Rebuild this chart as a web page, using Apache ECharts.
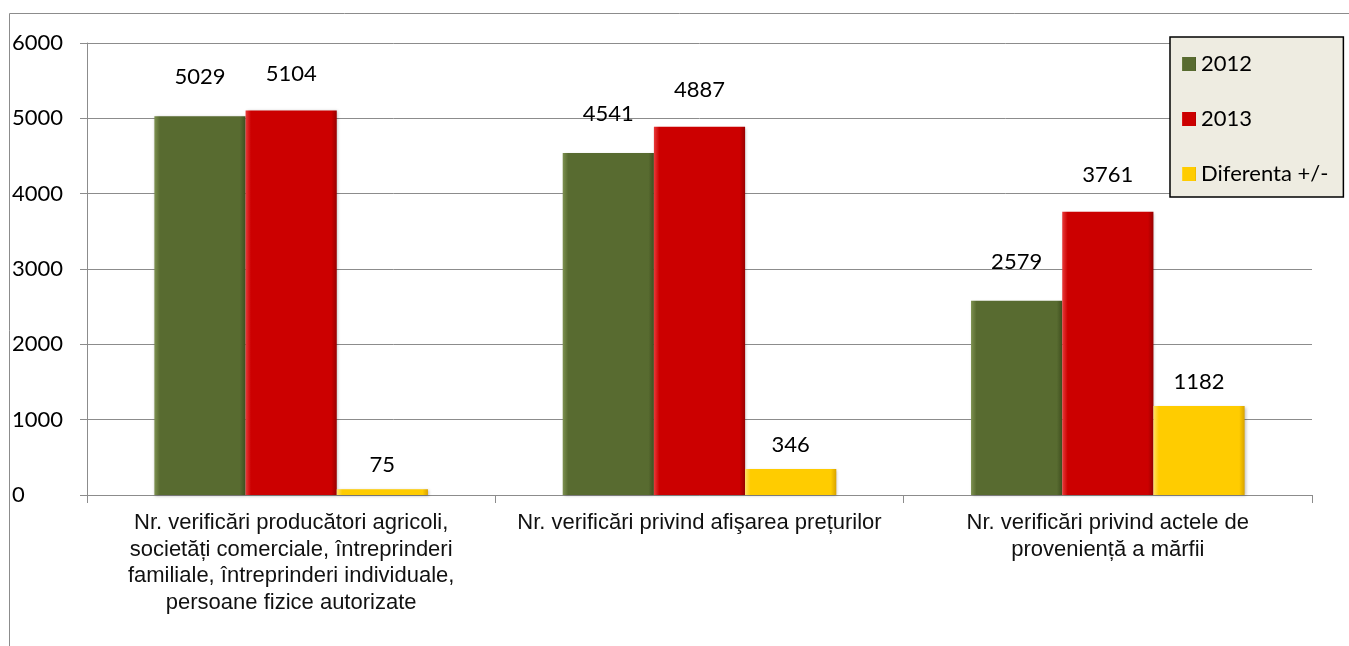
<!DOCTYPE html>
<html>
<head>
<meta charset="utf-8">
<script src="https://cdn.jsdelivr.net/npm/echarts@6/dist/echarts.min.js"></script>
<style>
	html, body { margin: 0; padding: 0; background: #fff; }
	#chart { width: 1349px; height: 646px; }
</style>
</head>
<body>
<div id="chart"></div>
<script>
var categories = [
	'Nr. verificări producători agricoli,\nsocietăți comerciale, întreprinderi\nfamiliale, întreprinderi individuale,\npersoane fizice autorizate',
	'Nr. verificări privind afişarea prețurilor',
	'Nr. verificări privind actele de\nproveniență a mărfii'
];
var seriesNames = ['2012', '2013', 'Diferenta +/-'];
var values2012 = [5029, 4541, 2579];
var values2013 = [5104, 4887, 3761];
var valuesDiff = [75, 346, 1182];
var yTicks = [0, 1000, 2000, 3000, 4000, 5000, 6000];

var numFont = 'Lato';
var axisColor = '#8c8c8c';

function bevel(base, light, dark) {
	return new echarts.graphic.LinearGradient(0, 0, 1, 0, [
		{offset: 0, color: light},
		{offset: 0.06, color: base},
		{offset: 0.94, color: base},
		{offset: 1, color: dark}
	]);
}

function makeSeries(name, data, base, light, dark, labelDist) {
	return {
		name: name,
		type: 'bar',
		data: data,
		barGap: '0%',
		barCategoryGap: '33%',
		itemStyle: {
			color: bevel(base, light, dark),
			shadowColor: 'rgba(0,0,0,0.25)',
			shadowBlur: 3,
			shadowOffsetX: 1,
			shadowOffsetY: 1
		},
		label: {
			show: true,
			position: 'top',
			distance: labelDist,
			color: '#000',
			fontFamily: numFont,
			fontSize: 22
		}
	};
}

var myChart = echarts.init(document.getElementById('chart'));
var option = {
	animation: false,
	color: ['#586b30', '#cc0000', '#ffcc00'],
	graphic: [{
		type: 'rect',
		z: -10,
		shape: {x: 9.5, y: 13.5, width: 1400, height: 700},
		style: {fill: 'none', stroke: axisColor, lineWidth: 1}
	}],
	grid: {
		left: 87,
		right: 37,
		top: 43,
		bottom: 151
	},
	legend: {
		orient: 'vertical',
		left: 1170,
		top: 37,
		padding: [16, 15, 12, 12],
		itemWidth: 14,
		itemHeight: 14,
		itemGap: 33,
		backgroundColor: '#eeece1',
		borderColor: '#000',
		borderWidth: 1.5,
		borderRadius: 0,
		icon: 'rect',
		data: seriesNames,
		textStyle: {
			fontFamily: numFont,
			fontSize: 22,
			lineHeight: 20,
			color: '#000'
		}
	},
	xAxis: {
		type: 'category',
		data: categories,
		axisLine: {lineStyle: {color: axisColor, width: 1}},
		axisTick: {show: true, length: 8, lineStyle: {color: axisColor}},
		axisLabel: {
			interval: 0,
			margin: 15,
			color: '#111',
			fontFamily: 'Liberation Sans',
			fontSize: 22,
			lineHeight: 26.5
		}
	},
	yAxis: {
		type: 'value',
		min: yTicks[0],
		max: yTicks[yTicks.length - 1],
		interval: 1000,
		axisLine: {show: true, lineStyle: {color: axisColor, width: 1}},
		axisTick: {show: true, length: 7, lineStyle: {color: axisColor}},
		splitLine: {lineStyle: {color: axisColor, width: 1}},
		axisLabel: {
			align: 'left',
			margin: 75,
			color: '#000',
			fontFamily: numFont,
			fontSize: 22,
			formatter: function(v) { return String(v); }
		}
	},
	series: [
		makeSeries(seriesNames[0], values2012, '#586b30', '#7d9150', '#3f4f1f', 28),
		makeSeries(seriesNames[1], values2013, '#cc0000', '#e83a3a', '#990000', 26),
		makeSeries(seriesNames[2], valuesDiff, '#ffcc00', '#ffe066', '#d9a300', 13)
	]
};
myChart.setOption(option);
</script>
</body>
</html>
